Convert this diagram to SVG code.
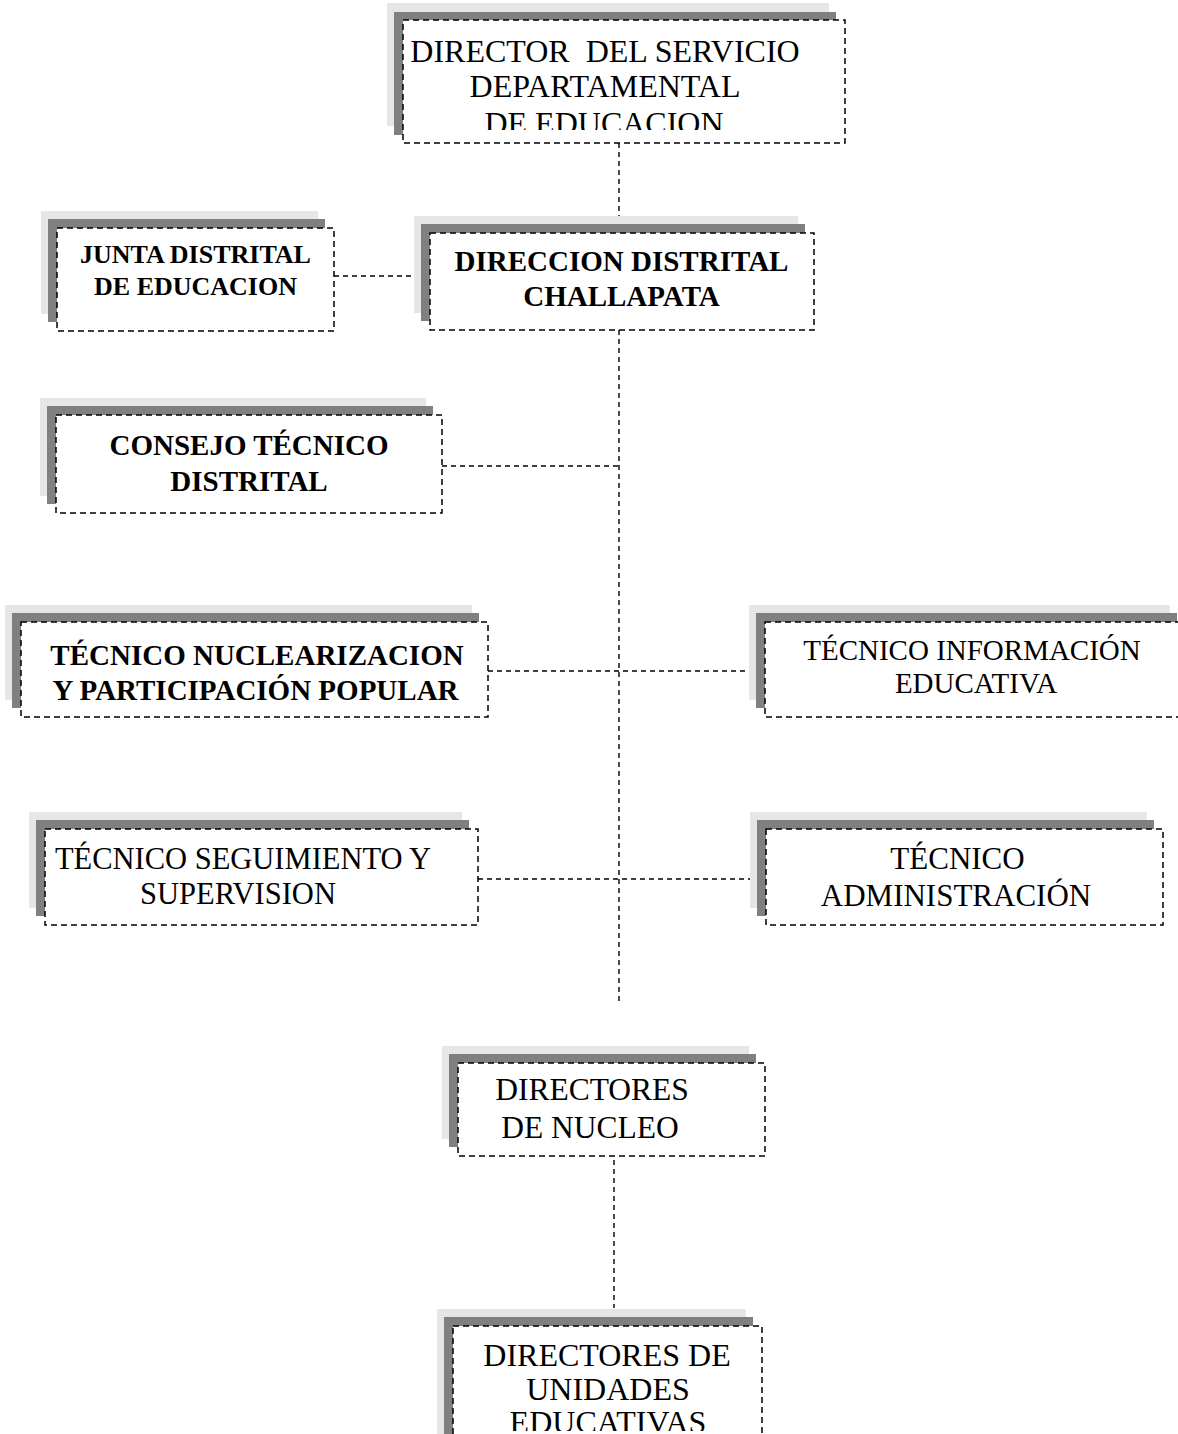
<svg xmlns="http://www.w3.org/2000/svg" width="1178" height="1434" viewBox="0 0 1178 1434">
<style>
.lt{fill:#e6e6e6}
.dk{fill:#808080}
.bx{fill:#fff;stroke:#000;stroke-width:1.5;stroke-dasharray:6 4}
.cn{fill:none;stroke:#000;stroke-width:1.4;stroke-dasharray:5 4}
.r{font-family:"Liberation Serif","Times New Roman",serif;fill:#000;text-anchor:middle}
.b{font-family:"Liberation Serif","Times New Roman",serif;font-weight:bold;fill:#000;text-anchor:middle}
</style>
<defs>
<clipPath id="c1"><rect x="403" y="20" width="442" height="110"/></clipPath>
<clipPath id="c2"><rect x="453" y="1326" width="309" height="105"/></clipPath>
</defs>
<rect width="1178" height="1434" fill="#fff"/>
<g id="connectors">
<path class="cn" d="M619,143V233"/>
<path class="cn" d="M334,276H430"/>
<path class="cn" d="M619,330V1003"/>
<path class="cn" d="M442,466H619"/>
<path class="cn" d="M488,671H765"/>
<path class="cn" d="M478,879H766"/>
<path class="cn" d="M614,1160V1308"/>
</g>
<g id="director-servicio">
<rect class="lt" x="387" y="3" width="442" height="123"/>
<rect class="dk" x="394" y="12" width="442" height="123"/>
<rect class="bx" x="403" y="20" width="442" height="123"/>
<g clip-path="url(#c1)">
<text class="r" font-size="32" xml:space="preserve"><tspan x="605" y="62">DIRECTOR  DEL SERVICIO</tspan><tspan x="605" y="97">DEPARTAMENTAL</tspan><tspan x="604" y="134">DE EDUCACION</tspan></text>
</g>
</g>
<g id="junta">
<rect class="lt" x="41" y="211" width="277" height="103"/>
<rect class="dk" x="48" y="219" width="277" height="103"/>
<rect class="bx" x="57" y="228" width="277" height="103"/>
<text class="b" font-size="26"><tspan x="195.5" y="263">JUNTA DISTRITAL</tspan><tspan x="195.5" y="295">DE EDUCACION</tspan></text>
</g>
<g id="direccion">
<rect class="lt" x="414" y="216" width="384" height="97"/>
<rect class="dk" x="421" y="224" width="384" height="97"/>
<rect class="bx" x="430" y="233" width="384" height="97"/>
<text class="b" font-size="29"><tspan x="621.5" y="271">DIRECCION DISTRITAL</tspan><tspan x="621.5" y="306">CHALLAPATA</tspan></text>
</g>
<g id="consejo">
<rect class="lt" x="40" y="398" width="386" height="98"/>
<rect class="dk" x="47" y="406" width="386" height="98"/>
<rect class="bx" x="56" y="415" width="386" height="98"/>
<text class="b" font-size="29"><tspan x="249" y="455">CONSEJO TÉCNICO</tspan><tspan x="249" y="491">DISTRITAL</tspan></text>
</g>
<g id="nuclearizacion">
<rect class="lt" x="5" y="605" width="467" height="95"/>
<rect class="dk" x="12" y="613" width="467" height="95"/>
<rect class="bx" x="21" y="622" width="467" height="95"/>
<text class="b" font-size="29"><tspan x="257" y="665">TÉCNICO NUCLEARIZACION</tspan><tspan x="255.5" y="700">Y PARTICIPACIÓN POPULAR</tspan></text>
</g>
<g id="informacion">
<rect class="lt" x="749" y="605" width="421" height="95"/>
<rect class="dk" x="756" y="613" width="421" height="95"/>
<rect class="bx" x="765" y="622" width="421" height="95"/>
<text class="r" font-size="29"><tspan x="972" y="660">TÉCNICO INFORMACIÓN</tspan><tspan x="976" y="693">EDUCATIVA</tspan></text>
</g>
<g id="seguimiento">
<rect class="lt" x="29" y="812" width="433" height="96"/>
<rect class="dk" x="36" y="820" width="433" height="96"/>
<rect class="bx" x="45" y="829" width="433" height="96"/>
<text class="r" font-size="30.5"><tspan x="243" y="869">TÉCNICO SEGUIMIENTO Y</tspan><tspan x="238" y="904">SUPERVISION</tspan></text>
</g>
<g id="administracion">
<rect class="lt" x="750" y="812" width="397" height="96"/>
<rect class="dk" x="757" y="820" width="397" height="96"/>
<rect class="bx" x="766" y="829" width="397" height="96"/>
<text class="r" font-size="31"><tspan x="957.5" y="869">TÉCNICO</tspan><tspan x="956" y="906">ADMINISTRACIÓN</tspan></text>
</g>
<g id="nucleo">
<rect class="lt" x="442" y="1046" width="307" height="93"/>
<rect class="dk" x="449" y="1054" width="307" height="93"/>
<rect class="bx" x="458" y="1063" width="307" height="93"/>
<text class="r" font-size="31.5"><tspan x="592" y="1100">DIRECTORES</tspan><tspan x="590" y="1138">DE NUCLEO</tspan></text>
</g>
<g id="unidades">
<rect class="lt" x="437" y="1309" width="309" height="140"/>
<rect class="dk" x="444" y="1317" width="309" height="140"/>
<rect class="bx" x="453" y="1326" width="309" height="140"/>
<g clip-path="url(#c2)">
<text class="r" font-size="32"><tspan x="607" y="1366">DIRECTORES DE</tspan><tspan x="608" y="1399.5">UNIDADES</tspan><tspan x="608" y="1433">EDUCATIVAS</tspan></text>
</g>
</g>
</svg>
